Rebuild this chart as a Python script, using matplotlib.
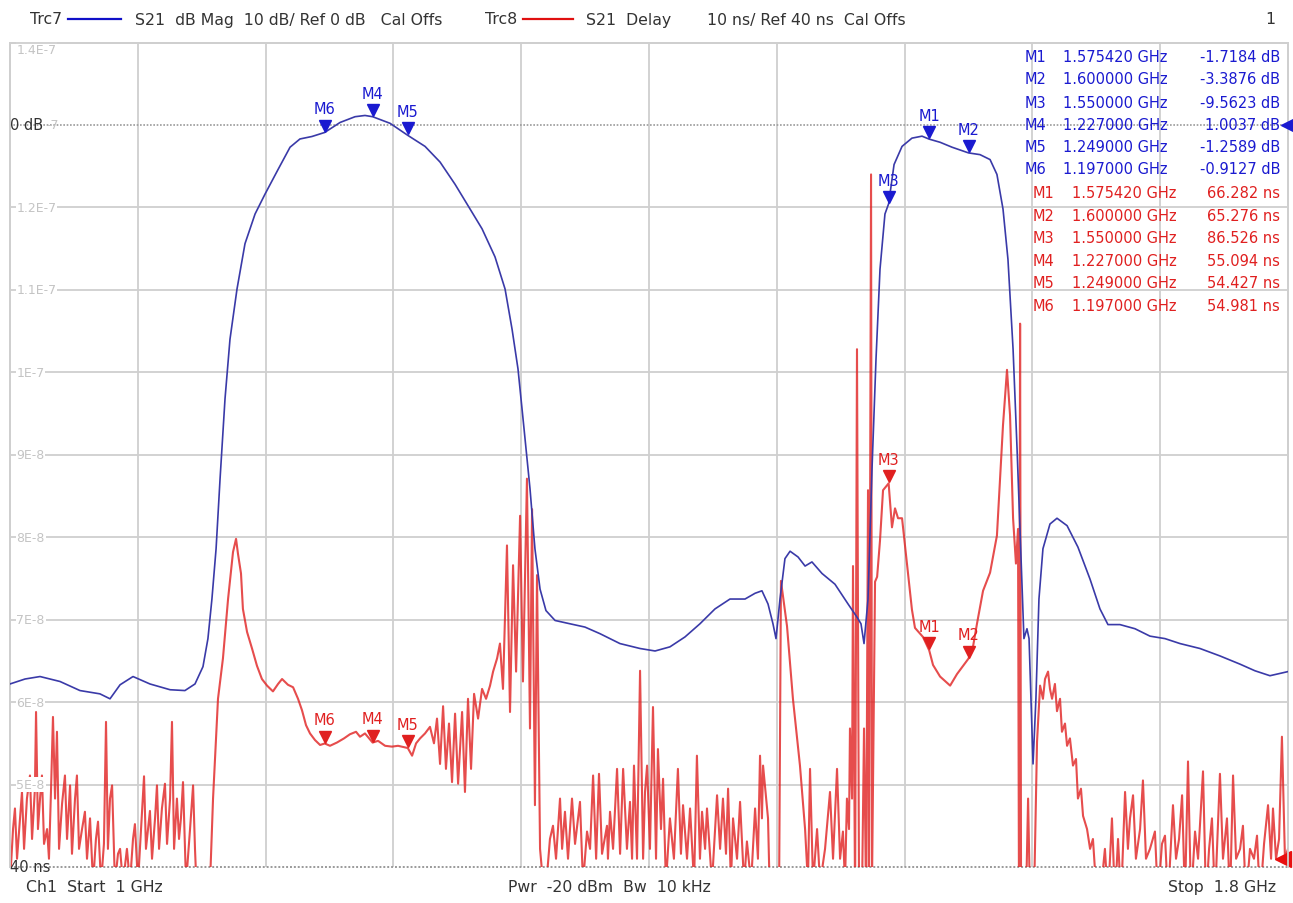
import matplotlib.pyplot as plt
from matplotlib import transforms
from matplotlib.lines import Line2D

# Trc7: S21 dB Mag (GHz, dB)
mag_freq = [1.0000, 1.0094, 1.0188, 1.0313, 1.0438, 1.0563, 1.0626, 1.0689, 1.0770, 1.0876,
            1.1002, 1.1095, 1.1158, 1.1208, 1.1239, 1.1264, 1.1290, 1.1315, 1.1346, 1.1377,
            1.1421, 1.1471, 1.1534, 1.1596, 1.1678, 1.1753, 1.1815, 1.1890, 1.1970, 1.2066,
            1.2160, 1.2222, 1.2270, 1.2379, 1.2490, 1.2598, 1.2692, 1.2786, 1.2880, 1.2955,
            1.3036, 1.3099, 1.3143, 1.3180, 1.3218, 1.3255, 1.3286, 1.3318, 1.3355, 1.3412,
            1.3505, 1.3599, 1.3693, 1.3818, 1.3944, 1.4038, 1.4131, 1.4225, 1.4319, 1.4413,
            1.4507, 1.4601, 1.4664, 1.4707, 1.4745, 1.4776, 1.4795, 1.4820, 1.4851, 1.4883,
            1.4933, 1.4977, 1.5020, 1.5083, 1.5164, 1.5246, 1.5302, 1.5327, 1.5346, 1.5371,
            1.5396, 1.5421, 1.5446, 1.5477, 1.5500, 1.5534, 1.5584, 1.5646, 1.5709, 1.5754,
            1.5822, 1.5897, 1.6000, 1.6072, 1.6135, 1.6178, 1.6216, 1.6247, 1.6279, 1.6304,
            1.6329, 1.6347, 1.6366, 1.6379, 1.6404, 1.6422, 1.6441, 1.6466, 1.6510, 1.6554,
            1.6617, 1.6685, 1.6761, 1.6823, 1.6873, 1.6948, 1.7042, 1.7136, 1.7230, 1.7324,
            1.7449, 1.7574, 1.7700, 1.7793, 1.7887, 1.8000]
mag_db = [-67.8, -67.2, -66.9, -67.5, -68.6, -69.0, -69.6, -67.9, -66.9, -67.8,
          -68.5, -68.6, -67.8, -65.7, -62.3, -57.5, -51.4, -42.9, -33.2, -26.0,
          -19.9, -14.4, -10.8, -8.4, -5.4, -2.7, -1.7, -1.4, -0.91, 0.3,
          1.0, 1.15, 1.0, 0.2, -1.26, -2.6, -4.5, -7.2, -10.2, -12.6,
          -16.0, -19.9, -24.8, -29.6, -36.9, -44.1, -51.4, -56.3, -58.9, -60.1,
          -60.5, -60.9, -61.7, -62.9, -63.5, -63.8, -63.3, -62.1, -60.5, -58.7,
          -57.5, -57.5, -56.8, -56.5, -58.1, -60.5, -62.3, -57.5, -52.6, -51.7,
          -52.4, -53.5, -53.0, -54.4, -55.7, -58.1, -59.7, -60.5, -62.9, -57.5,
          -41.7, -28.4, -17.5, -10.8, -9.56, -4.8, -2.6, -1.6, -1.36, -1.72,
          -2.1, -2.7, -3.39, -3.6, -4.2, -6.0, -10.2, -16.3, -27.2, -39.3,
          -52.6, -62.3, -61.1, -62.3, -77.5, -69.6, -57.5, -51.4, -48.4, -47.7,
          -48.6, -51.2, -55.1, -58.7, -60.6, -60.6, -61.1, -62.0, -62.3, -62.9,
          -63.5, -64.4, -65.4, -66.2, -66.8, -66.3]

# Trc8: S21 Delay (GHz, ns)
delay_freq = [
    1.0000, 1.0019, 1.0031, 1.0044, 1.0063, 1.0075, 1.0088, 1.0106, 1.0125, 1.0138,
    1.0156, 1.0163, 1.0175, 1.0188, 1.0200, 1.0213, 1.0232, 1.0244, 1.0257, 1.0269,
    1.0282, 1.0294, 1.0307, 1.0326, 1.0344, 1.0357, 1.0376, 1.0388, 1.0407, 1.0419,
    1.0432, 1.0451, 1.0469, 1.0482, 1.0501, 1.0520, 1.0538, 1.0551, 1.0570, 1.0588,
    1.0601, 1.0613, 1.0626, 1.0639, 1.0657, 1.0676, 1.0689, 1.0707, 1.0732, 1.0751,
    1.0770, 1.0782, 1.0801, 1.0820, 1.0839, 1.0851, 1.0864, 1.0876, 1.0889, 1.0908,
    1.0920, 1.0933, 1.0951, 1.0970, 1.0983, 1.1002, 1.1014, 1.1027, 1.1045, 1.1058,
    1.1070, 1.1083, 1.1102, 1.1127, 1.1146, 1.1158, 1.1171, 1.1240,
    1.1252, 1.1271, 1.1302, 1.1333, 1.1365, 1.1396, 1.1415, 1.1427, 1.1446, 1.1458,
    1.1484, 1.1515, 1.1546, 1.1577, 1.1609, 1.1646, 1.1678, 1.1703, 1.1740, 1.1772,
    1.1803, 1.1828, 1.1853, 1.1878, 1.1909, 1.1941, 1.1970, 1.2003, 1.2047, 1.2091,
    1.2128, 1.2166, 1.2191, 1.2222, 1.2270, 1.2304, 1.2348, 1.2391, 1.2429, 1.2490,
    1.2517, 1.2542, 1.2567, 1.2598, 1.2629, 1.2654, 1.2673, 1.2692, 1.2711, 1.2729,
    1.2748, 1.2767, 1.2786, 1.2805, 1.2830, 1.2848, 1.2867, 1.2886, 1.2905, 1.2930,
    1.2955, 1.2980, 1.3005, 1.3024, 1.3049, 1.3067, 1.3086, 1.3111, 1.3130, 1.3149,
    1.3168, 1.3193, 1.3211, 1.3236, 1.3255, 1.3268, 1.3286, 1.3299, 1.3318, 1.3337,
    1.3349, 1.3380, 1.3399, 1.3418, 1.3443, 1.3456, 1.3474, 1.3493, 1.3518, 1.3537,
    1.3568, 1.3587, 1.3612, 1.3631, 1.3650, 1.3669, 1.3687, 1.3706, 1.3737, 1.3743,
    1.3756, 1.3775, 1.3800, 1.3819, 1.3838, 1.3862, 1.3881, 1.3894, 1.3906, 1.3925,
    1.3944, 1.3963, 1.3975, 1.3988, 1.4006, 1.4025, 1.4044, 1.4056, 1.4075, 1.4088,
    1.4106, 1.4131, 1.4156, 1.4181, 1.4200, 1.4213, 1.4238, 1.4257, 1.4282, 1.4300,
    1.4319, 1.4332, 1.4351, 1.4363, 1.4394, 1.4426, 1.4445, 1.4463, 1.4482, 1.4495,
    1.4513, 1.4526, 1.4551, 1.4570, 1.4595, 1.4613, 1.4639, 1.4664, 1.4682, 1.4695,
    1.4707, 1.4714, 1.4745, 1.4757, 1.4814, 1.4826, 1.4864, 1.4901, 1.4945, 1.4977,
    1.4995,
    1.5008, 1.5027, 1.5052, 1.5071, 1.5102, 1.5133, 1.5152, 1.5177, 1.5196, 1.5214,
    1.5227, 1.5239, 1.5252, 1.5258, 1.5271, 1.5277, 1.5290, 1.5302, 1.5315, 1.5333,
    1.5346, 1.5359, 1.5371, 1.5377, 1.5390, 1.5396, 1.5415, 1.5428, 1.5446, 1.5465,
    1.5490, 1.5500, 1.5521, 1.5540, 1.5559, 1.5584, 1.5615, 1.5646, 1.5665, 1.5715,
    1.5754, 1.5778, 1.5822, 1.5885, 1.5928, 1.6000, 1.6028, 1.6053, 1.6091, 1.6135,
    1.6178, 1.6216, 1.6241, 1.6260, 1.6279, 1.6297, 1.6310, 1.6316, 1.6323, 1.6329,
    1.6360, 1.6373, 1.6385, 1.6410, 1.6429, 1.6448, 1.6466, 1.6479, 1.6498, 1.6510,
    1.6523, 1.6541, 1.6554, 1.6573, 1.6585, 1.6604, 1.6617, 1.6635, 1.6654, 1.6673,
    1.6685, 1.6704, 1.6717, 1.6742, 1.6761, 1.6779, 1.6804,
    1.6823, 1.6854, 1.6873, 1.6898, 1.6917, 1.6936, 1.6955, 1.6980, 1.6998, 1.7011,
    1.7030, 1.7048, 1.7074, 1.7092, 1.7111, 1.7136, 1.7167, 1.7186, 1.7211, 1.7230,
    1.7249, 1.7280, 1.7299, 1.7318, 1.7337, 1.7355, 1.7374, 1.7393, 1.7418, 1.7437,
    1.7468, 1.7487, 1.7506, 1.7524, 1.7543, 1.7574, 1.7593, 1.7618, 1.7637, 1.7656,
    1.7675, 1.7700, 1.7718, 1.7737, 1.7762, 1.7787, 1.7806, 1.7825, 1.7850, 1.7875,
    1.7894, 1.7906, 1.7925, 1.7944, 1.7962, 1.7981, 1.8000]
delay_ns = [
    38, 44.6, 47.1, 41.0, 45.9, 49.1, 42.2, 48.3, 51.1, 43.4,
    49.5, 58.8, 44.6, 48.3, 51.1, 42.8, 44.6, 41.0, 49.5, 58.2,
    48.3, 56.4, 42.2, 47.7, 51.1, 43.4, 49.9, 41.6, 48.3, 51.1,
    42.2, 44.6, 46.7, 41.0, 45.9, 38, 43.4, 45.5, 38, 42.8,
    57.6, 42.2, 48.3, 49.9, 38, 41.6, 42.2, 38, 42.2, 38,
    43.4, 45.2, 38, 44.6, 51.0, 42.2, 44.6, 46.8, 41.0, 45.9,
    49.9, 42.2, 47.1, 50.1, 42.8, 48.3, 57.6, 42.2, 48.3, 43.4,
    45.9, 50.3, 38, 44.6, 49.9, 42.2, 36, 36,
    38, 48.3, 60.4, 65.3, 72.5, 78.2, 79.8, 78.0, 75.6, 71.3,
    68.5, 66.5, 64.4, 62.8, 62.0, 61.3, 62.2, 62.8, 62.1, 61.8,
    60.4, 59.0, 57.2, 56.2, 55.4, 54.8, 54.98, 54.7, 55.1, 55.6,
    56.1, 56.4, 55.8, 56.2, 55.09, 55.3, 54.7, 54.6, 54.7, 54.43,
    53.5, 55.0, 55.6, 56.2, 57.0, 55.0, 58.0, 52.5, 59.5, 51.9,
    57.4, 50.3, 58.6, 50.1, 58.8, 49.1, 60.4, 51.9, 61.0, 58.0,
    61.6, 60.4, 62.0, 63.7, 65.3, 67.1, 61.6, 79.0, 58.8, 76.6,
    63.7, 82.6, 62.5, 87.1, 56.8, 83.4, 47.5, 75.4, 42.2, 38,
    36, 43.4, 45.0, 41.0, 48.3, 42.2, 46.7, 41.0, 48.3, 42.8,
    47.9, 38, 44.3, 42.2, 51.1, 41.0, 51.3, 41.6, 45.0, 41.0,
    46.7, 42.2, 51.9, 41.6, 51.9, 42.2, 47.9, 41.0, 52.3, 41.0,
    63.8, 41.0, 49.1, 52.3, 42.2, 59.4, 41.0, 54.3, 44.6, 50.7,
    38, 45.9, 41.0, 51.9, 41.6, 47.5, 41.0, 47.1, 38, 53.5,
    41.0, 46.7, 42.2, 47.1, 38, 48.7, 42.2, 48.3, 41.6, 49.5,
    38, 45.9, 41.0, 47.9, 38, 43.1, 38, 47.1, 41.0, 53.5,
    45.9, 52.3, 45.9, 36, 36, 74.7, 69.2, 60.4, 52.3, 44.6,
    38,
    51.9, 38, 44.6, 38, 42.2, 49.1, 41.0, 51.9, 41.0, 44.3,
    38, 48.3, 44.6, 56.8, 48.3, 76.5, 36, 102.8, 36, 36,
    56.8, 36, 85.7, 36, 124.0, 38, 74.6, 75.2, 79.6, 85.7,
    86.3, 86.53, 81.2, 83.5, 82.3, 82.3, 76.8, 71.2, 69.0, 67.9,
    66.28, 64.5, 63.1, 62.0, 63.4, 65.28, 66.7, 69.5, 73.5, 75.7,
    80.2, 93.6, 100.3, 94.8, 82.3, 76.8, 81.0, 36, 105.9, 36,
    36, 48.3, 36, 36, 55.2, 62.0, 60.4, 62.8, 63.7, 61.6,
    60.4, 62.2, 58.9, 60.4, 56.4, 57.4, 54.7, 55.6, 52.3, 53.1,
    48.3, 49.5, 46.2, 44.6, 42.2, 43.4, 36,
    36, 42.2, 36, 45.9, 36, 43.4, 36, 49.1, 42.2, 45.9,
    48.7, 41.0, 44.6, 50.5, 41.0, 42.2, 44.3, 36, 42.8, 43.8,
    36, 47.5, 41.0, 43.4, 48.7, 36, 52.8, 36, 44.3, 41.0,
    51.6, 36, 42.2, 45.9, 36, 51.3, 41.0, 45.9, 36, 51.1,
    41.0, 42.2, 45.0, 36, 42.2, 41.0, 43.8, 36, 42.8, 47.5,
    41.0, 47.1, 41.0, 43.4, 55.8, 41.0, 42.2]

# markers
marker_names = ["M1", "M2", "M3", "M4", "M5", "M6"]
marker_freq = [1.575420, 1.600000, 1.550000, 1.227000, 1.249000, 1.197000]
marker_db = [-1.7184, -3.3876, -9.5623, 1.0037, -1.2589, -0.9127]
marker_ns = [66.282, 65.276, 86.526, 55.094, 54.427, 54.981]

delay_ticks = [140, 120, 110, 100, 90, 80, 70, 60, 50]
delay_tick_labels = ["1.4E-7", "1.2E-7", "1.1E-7", "1E-7",
                     "9E-8", "8E-8", "7E-8", "6E-8", "5E-8"]

BLUE = "#3a3aa8"
BLUE_M = "#1a1ad0"
RED = "#e02020"
RED_M = "#e02020"
TXT = "#333333"
GRID = "#cfcfcf"
LBL = "#c4c4c4"

plt.rcParams["font.family"] = ["DejaVu Sans"]

W, H = 1293, 904
fig = plt.figure(figsize=(W / 100, H / 100), dpi=100)


def px(x, y):
    return x / W, 1 - y / H


ax = fig.add_axes([10 / W, 1 - 868 / H, 1278 / W, 824.5 / H])
ax2 = ax.twinx()

ax.set_xlim(1.0, 1.8)
ax.set_ylim(40, 140)
ax2.set_ylim(-90, 10)

ax.set_xticks([1.0 + 0.08 * i for i in range(1, 10)])
ax.set_yticks(delay_ticks)
ax.grid(True, color=GRID, lw=1.3)
ax.set_axisbelow(True)
ax.tick_params(left=False, bottom=False, labelleft=False, labelbottom=False)
ax2.tick_params(right=False, labelright=False)
for a in (ax, ax2):
    for s in a.spines.values():
        s.set_color(GRID)
        s.set_linewidth(1.3)
    a.spines["bottom"].set_visible(False)

# reference lines
ax2.axhline(0, color="#9a9a9a", ls=(0, (1, 1)), lw=1.2, zorder=1)
ax.axhline(40, color="#9a9a9a", ls=(0, (1, 1)), lw=1.4, clip_on=False)

# traces
ax.plot(delay_freq, delay_ns, color=RED, lw=1.5, alpha=0.8, zorder=3)
ax2.plot(mag_freq, mag_db, color=BLUE, lw=1.2, zorder=3)

# delay axis labels (seconds)
for t, lab in zip(delay_ticks, delay_tick_labels):
    yy = t - 0.8 if t == 140 else t
    ax.text(1.004, yy, lab, color=LBL, fontsize=9, ha="left", va="center",
            bbox=dict(fc="white", ec="none", pad=0.5), zorder=4)
ax2.text(1.0, 0, "0 dB", color=TXT, fontsize=10.5, ha="left", va="center",
         zorder=5, clip_on=False)
ax2.text(1.0225, 0, "-7", color=LBL, fontsize=9, ha="left", va="center", zorder=5)
ax.text(1.0, 40, "40 ns", color=TXT, fontsize=10.5, ha="left", va="center",
        zorder=5, clip_on=False)

# markers
up = transforms.offset_copy(ax2.transData, fig=fig, y=5, units="points")
up_r = transforms.offset_copy(ax.transData, fig=fig, y=5, units="points")
for name, f, d, n in zip(marker_names, marker_freq, marker_db, marker_ns):
    ax2.plot([f], [d], marker="v", ms=8, color=BLUE_M, transform=up, zorder=6)
    ax2.annotate(name, (f, d), xytext=(0, 17), textcoords="offset points",
                 ha="center", va="center", color=BLUE_M, fontsize=10.5, zorder=6)
    ax.plot([f], [n], marker="v", ms=8, color=RED_M, transform=up_r, zorder=6)
    ax.annotate(name, (f, n), xytext=(0, 17), textcoords="offset points",
                ha="center", va="center", color=RED_M, fontsize=10.5, zorder=6)

# reference position triangles
ax2.plot([1.8], [0], marker="<", ms=10, color=BLUE_M, clip_on=False, zorder=7)
ax.plot([1.797], [41], marker="<", ms=12, color="#e81010", clip_on=False, zorder=7)

# marker table
rows_b = [58, 80, 103, 125, 147, 170]
rows_r = [194, 217, 239, 262, 284, 307]
for i in range(6):
    fig.text(*px(1025, rows_b[i]), marker_names[i], color=BLUE_M, fontsize=10.5, va="center")
    fig.text(*px(1063, rows_b[i]), f"{marker_freq[i]:.6f} GHz", color=BLUE_M,
             fontsize=10.5, va="center")
    fig.text(*px(1280, rows_b[i]), f"{marker_db[i]:.4f} dB", color=BLUE_M,
             fontsize=10.5, va="center", ha="right")
    fig.text(*px(1033, rows_r[i]), marker_names[i], color=RED_M, fontsize=10.5, va="center")
    fig.text(*px(1072, rows_r[i]), f"{marker_freq[i]:.6f} GHz", color=RED_M,
             fontsize=10.5, va="center")
    fig.text(*px(1280, rows_r[i]), f"{marker_ns[i]:.3f} ns", color=RED_M,
             fontsize=10.5, va="center", ha="right")

# header
hy = 20
hfs = 11.3
fig.text(*px(30, hy), "Trc7", color=TXT, fontsize=hfs, va="center")
fig.add_artist(Line2D([68 / W, 121 / W], [1 - hy / H] * 2, color="#1010c8", lw=1.6))
fig.text(*px(135, hy), "S21  dB Mag  10 dB/ Ref 0 dB   Cal Offs", color=TXT,
         fontsize=hfs, va="center")
fig.text(*px(485, hy), "Trc8", color=TXT, fontsize=hfs, va="center")
fig.add_artist(Line2D([523 / W, 573 / W], [1 - hy / H] * 2, color="#e01010", lw=1.6))
fig.text(*px(586, hy), "S21  Delay", color=TXT, fontsize=hfs, va="center")
fig.text(*px(707, hy), "10 ns/ Ref 40 ns  Cal Offs", color=TXT, fontsize=hfs, va="center")
fig.text(*px(1265, hy), "1", color=TXT, fontsize=hfs, va="center")

# footer
fy = 888
fig.text(*px(26, fy), "Ch1  Start  1 GHz", color=TXT, fontsize=hfs, va="center")
fig.text(*px(508, fy), "Pwr  -20 dBm  Bw  10 kHz", color=TXT, fontsize=hfs, va="center")
fig.text(*px(1276, fy), "Stop  1.8 GHz", color=TXT, fontsize=hfs, va="center", ha="right")

fig.savefig("out.png", dpi=100)
